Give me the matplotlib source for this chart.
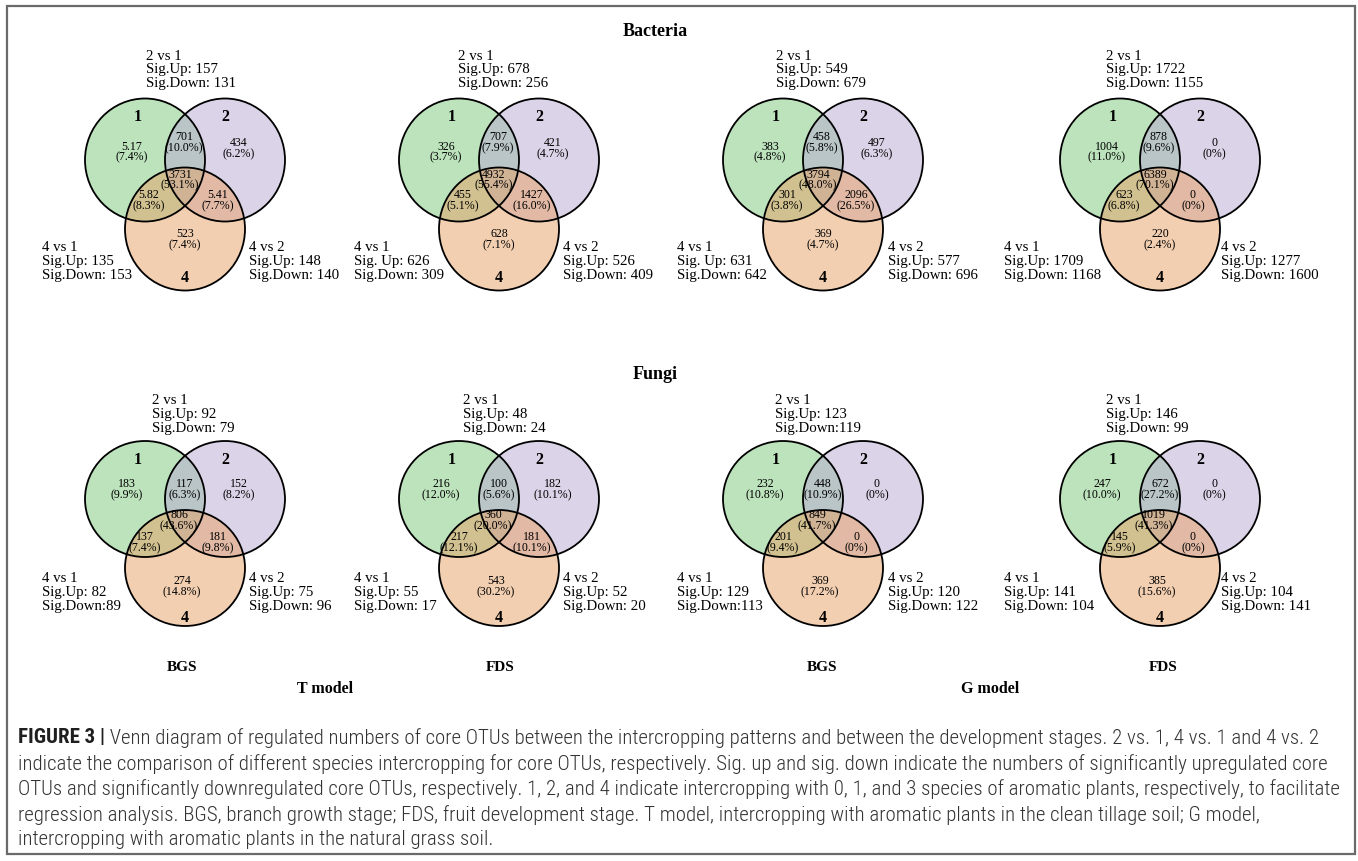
import matplotlib
matplotlib.use("Agg")
import matplotlib.pyplot as plt
from matplotlib.patches import Ellipse, Rectangle
from matplotlib import font_manager

# ---------------- data ----------------
rows = ["Bacteria", "Fungi"]
stages = ["BGS", "FDS", "BGS", "FDS"]
models = ["T model", "G model"]
set_names = ["1", "2", "4"]

# region order: only 1, 1&2, only 2, 1&2&4, 1&4, 2&4, only 4
bac_counts = [
    ["5.17", "701", "434", "3731", "5.82", "5.41", "523"],
    ["326", "707", "421", "4932", "455", "1427", "628"],
    ["383", "458", "497", "3794", "301", "2096", "369"],
    ["1004", "878", "0", "6389", "623", "0", "220"],
]
bac_pct = [
    [7.4, 10.0, 6.2, 53.1, 8.3, 7.7, 7.4],
    [3.7, 7.9, 4.7, 55.4, 5.1, 16.0, 7.1],
    [4.8, 5.8, 6.3, 48.0, 3.8, 26.5, 4.7],
    [11.0, 9.6, 0, 70.1, 6.8, 0, 2.4],
]
fun_counts = [
    ["183", "117", "152", "806", "137", "181", "274"],
    ["216", "100", "182", "360", "217", "181", "543"],
    ["232", "448", "0", "849", "201", "0", "369"],
    ["247", "672", "0", "1019", "145", "0", "385"],
]
fun_pct = [
    [9.9, 6.3, 8.2, 43.6, 7.4, 9.8, 14.8],
    [12.0, 5.6, 10.1, 20.0, 12.1, 10.1, 30.2],
    [10.8, 10.9, 0, 41.7, 9.4, 0, 17.2],
    [10.0, 27.2, 0, 41.3, 5.9, 0, 15.6],
]

# comparison labels: 2 vs 1, 4 vs 1, 4 vs 2
bac_2v1 = [("Sig.Up: 157", "Sig.Down: 131"), ("Sig.Up: 678", "Sig.Down: 256"),
           ("Sig.Up: 549", "Sig.Down: 679"), ("Sig.Up: 1722", "Sig.Down: 1155")]
bac_4v1 = [("Sig.Up: 135", "Sig.Down: 153"), ("Sig. Up: 626", "Sig.Down: 309"),
           ("Sig. Up: 631", "Sig.Down: 642"), ("Sig.Up: 1709", "Sig.Down: 1168")]
bac_4v2 = [("Sig.Up: 148", "Sig.Down: 140"), ("Sig.Up: 526", "Sig.Down: 409"),
           ("Sig.Up: 577", "Sig.Down: 696"), ("Sig.Up: 1277", "Sig.Down: 1600")]
fun_2v1 = [("Sig.Up: 92", "Sig.Down: 79"), ("Sig.Up: 48", "Sig.Down: 24"),
           ("Sig.Up: 123", "Sig.Down:119"), ("Sig.Up: 146", "Sig.Down: 99")]
fun_4v1 = [("Sig.Up: 82", "Sig.Down:89"), ("Sig.Up: 55", "Sig.Down: 17"),
           ("Sig.Up: 129", "Sig.Down:113"), ("Sig.Up: 141", "Sig.Down: 104")]
fun_4v2 = [("Sig.Up: 75", "Sig.Down: 96"), ("Sig.Up: 52", "Sig.Down: 20"),
           ("Sig.Up: 120", "Sig.Down: 122"), ("Sig.Up: 104", "Sig.Down: 141")]

caption_head = "FIGURE 3 |"
caption_lines = [
    " Venn diagram of regulated numbers of core OTUs between the intercropping patterns and between the development stages. 2 vs. 1, 4 vs. 1 and 4 vs. 2",
    "indicate the comparison of different species intercropping for core OTUs, respectively. Sig. up and sig. down indicate the numbers of significantly upregulated core",
    "OTUs and significantly downregulated core OTUs, respectively. 1, 2, and 4 indicate intercropping with 0, 1, and 3 species of aromatic plants, respectively, to facilitate",
    "regression analysis. BGS, branch growth stage; FDS, fruit development stage. T model, intercropping with aromatic plants in the clean tillage soil; G model,",
    "intercropping with aromatic plants in the natural grass soil.",
]

# ---------------- layout (pixels) ----------------
W, H = 1358, 862
panel_x = [185, 499, 823, 1160]
stage_x = [182, 500, 822, 1163]
fills = ["#7dc97d", "#b9a9d1", "#e7a165"]
serif = "Liberation Serif"
LAB = 10.7      # comparison label size
REG = 8.6       # region label size

row_cfg = [
    dict(y0=161, h=123, hdr_y=-91, hdr_dx=[-39, -41, -47, -54], num_y=-44,
         reg=[(-53, -9), (-1, -18), (54, -12), (-5, 19), (-36, 40), (33, 40), (0, 79)],
         four_y=117, low_y=101),
    dict(y0=500, h=116, hdr_y=-85, hdr_dx=[-33, -36, -48, -54], num_y=-40,
         reg=[(-58, -10), (0, -10), (54, -10), (-6, 21), (-40, 43), (33, 43), (-3, 87)],
         four_y=118, low_y=93),
]
low_left_dx = [-143, -145, -146, -156]
low_right_dx = [64, 64, 65, 61]


def pct_label(p):
    return "(0%)" if p == 0 else f"({p:.1f}%)"


def venn_panel(ax, cx, cfg, counts, pct, c21, c41, c42, k):
    y0 = cfg["y0"]
    centers = [(cx - 40, y0), (cx + 40, y0), (cx, y0 + 69)]
    for (x, y), col in zip(centers, fills):
        ax.add_patch(Ellipse((x, y), 120, cfg["h"], facecolor=col, alpha=0.5, lw=0))
    for x, y in centers:
        ax.add_patch(Ellipse((x, y), 120, cfg["h"], facecolor="none", edgecolor="black", lw=1.3))
    for (dx, dy), c, p in zip(cfg["reg"], counts, pct):
        ax.text(cx + dx, y0 + dy - 5.5, c, ha="center", va="center", fontsize=REG, family=serif)
        ax.text(cx + dx, y0 + dy + 5.5, pct_label(p), ha="center", va="center", fontsize=REG, family=serif)
    ax.text(cx - 47, y0 + cfg["num_y"], set_names[0], ha="center", va="center",
            fontsize=11.5, weight="bold", family=serif)
    ax.text(cx + 40, y0 + cfg["num_y"], set_names[1], ha="center", va="center",
            fontsize=11.5, weight="bold", family=serif)
    ax.text(cx, y0 + cfg["four_y"], set_names[2], ha="center", va="center",
            fontsize=11.5, weight="bold", family=serif)
    ax.text(cx + cfg["hdr_dx"][k], y0 + cfg["hdr_y"], "2 vs 1\n" + "\n".join(c21),
            ha="left", va="center", fontsize=LAB, family=serif, linespacing=1.1)
    ax.text(cx + low_left_dx[k], y0 + cfg["low_y"], "4 vs 1\n" + "\n".join(c41),
            ha="left", va="center", fontsize=LAB, family=serif, linespacing=1.1)
    ax.text(cx + low_right_dx[k], y0 + cfg["low_y"], "4 vs 2\n" + "\n".join(c42),
            ha="left", va="center", fontsize=LAB, family=serif, linespacing=1.1)


def caption_fonts():
    for fam in ["Liberation Sans Narrow", "Roboto Condensed", "Open Sans Condensed"]:
        try:
            font_manager.findfont(fam, fallback_to_default=False)
            return (font_manager.FontProperties(family=fam, weight="light"),
                    font_manager.FontProperties(family=fam, weight="bold"))
        except Exception:
            pass
    fp = font_manager.FontProperties(family="DejaVu Sans", stretch="condensed")
    if "Condensed" in font_manager.findfont(fp):
        return fp, font_manager.FontProperties(family="DejaVu Sans", stretch="condensed", weight="bold")
    return (font_manager.FontProperties(family="Liberation Sans"),
            font_manager.FontProperties(family="Liberation Sans", weight="bold"))


fig = plt.figure(figsize=(W / 100, H / 100), dpi=100)
ax = fig.add_axes([0, 0, 1, 1])
ax.set_xlim(0, W)
ax.set_ylim(H, 0)
ax.axis("off")

ax.add_patch(Rectangle((7, 7), 1348, 848, facecolor="none", edgecolor="#6a6a6a", lw=1.6))

ax.text(655, 31, rows[0], ha="center", va="center", fontsize=13, weight="bold", family=serif)
ax.text(655, 375, rows[1], ha="center", va="center", fontsize=13, weight="bold", family=serif)

for k in range(4):
    venn_panel(ax, panel_x[k], row_cfg[0], bac_counts[k], bac_pct[k],
               bac_2v1[k], bac_4v1[k], bac_4v2[k], k)
    venn_panel(ax, panel_x[k], row_cfg[1], fun_counts[k], fun_pct[k],
               fun_2v1[k], fun_4v1[k], fun_4v2[k], k)
    ax.text(stage_x[k], 668, stages[k], ha="center", va="center",
            fontsize=11, weight="bold", family=serif)

ax.text(325, 689, models[0], ha="center", va="center", fontsize=11.5, weight="bold", family=serif)
ax.text(990, 689, models[1], ha="center", va="center", fontsize=11.5, weight="bold", family=serif)

# caption, sized so the text fits the frame
reg_fp, bold_fp = caption_fonts()
cap_y = [738, 764, 789, 815, 840]
x0 = 18
fig.canvas.draw()
r = fig.canvas.get_renderer()


def width_at(text, fp, size):
    fp = fp.copy()
    fp.set_size(size)
    t = ax.text(0, 0, text, fontproperties=fp)
    w = t.get_window_extent(r).width
    t.remove()
    return w


base = 12
w_head = width_at(caption_head, bold_fp, base)
w_lines = [width_at(s, reg_fp, base) for s in caption_lines]
size = base * (1338 - x0) / (w_head + w_lines[0])
size = min(size, min(base * (1345 - x0) / w for w in w_lines[1:]))

hfp = bold_fp.copy()
hfp.set_size(size)
rfp = reg_fp.copy()
rfp.set_size(size)
head = ax.text(x0, cap_y[0], caption_head, ha="left", va="center",
               fontproperties=hfp, color="#1f1f1f")
fig.canvas.draw()
hw = head.get_window_extent(r).width
ax.text(x0 + hw, cap_y[0], caption_lines[0], ha="left", va="center",
        fontproperties=rfp, color="#333333")
for y, line in zip(cap_y[1:], caption_lines[1:]):
    ax.text(x0, y, line, ha="left", va="center", fontproperties=rfp, color="#333333")

fig.savefig("out.png", dpi=100)
